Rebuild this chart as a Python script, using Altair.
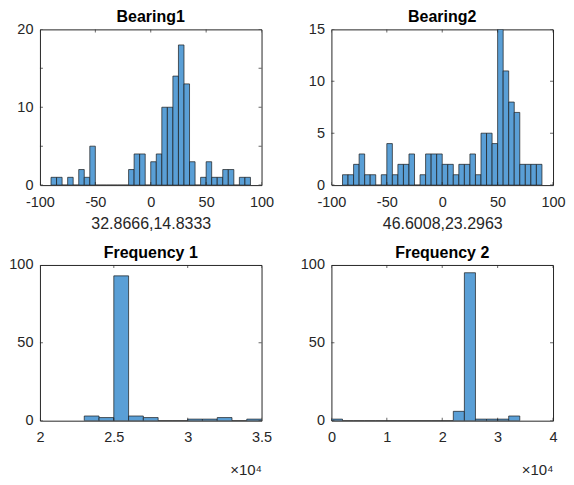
import altair as alt
import pandas as pd

# ---------------- data ----------------
b1_start, b1_width = -90, 5
b1_counts = [1, 1, 0, 1, 0, 2, 1, 5, 0, 0, 0, 0, 0, 0, 2, 4, 4, 0,
             3, 4, 10, 10, 14, 18, 13, 3, 0, 1, 3, 1, 1, 2, 2, 0, 1, 1]
b1_label = "32.8666,14.8333"

b2_start, b2_width = -90, 5
b2_counts = [1, 1, 2, 3, 1, 1, 0, 1, 4, 1, 2, 2, 3, 0, 1, 3, 3, 3,
             2, 2, 1, 2, 2, 3, 1, 5, 5, 4, 15, 11, 8, 7, 2, 2, 2, 2]
b2_label = "46.6008,23.2963"

f1_start, f1_width = 23000, 1000
f1_counts = [3, 2, 93, 3, 2, 0, 0, 1, 1, 2, 0, 1]

f2_start, f2_width = 0, 2000
f2_counts = [1, 0, 0, 0, 0, 0, 0, 0, 0, 0, 0, 6, 95, 1, 1, 1, 3]

b_xticks = [-100, -50, 0, 50, 100]
b1_yticks = [0, 5, 10, 15, 20]
b2_yticks = [0, 5, 10, 15]
f1_xticks = [20000, 25000, 30000, 35000]
f2_xticks = [0, 10000, 20000, 30000, 40000]
f_yticks = [0, 50, 100]

# ---------------- style ----------------
W, H = 222, 156
BAR = "#5A9FD6"
EDGE = "#1a1a1a"
AX = "#262626"
FONT = "Liberation Sans"
TICK = 3


def hist_df(start, width, counts):
    return pd.DataFrame({
        "x0": [start + i * width for i in range(len(counts))],
        "x1": [start + (i + 1) * width for i in range(len(counts))],
        "count": counts,
    })


def panel(df, title, xdom, xticks, ydom, yticks, xtitle, sci):
    xscale = alt.Scale(domain=xdom, nice=False, zero=False)
    yscale = alt.Scale(domain=ydom, nice=False, zero=False)
    label_expr = "datum.value / 10000" if sci else "datum.value"
    xaxis = alt.Axis(values=xticks, ticks=False, domain=False, grid=False,
                     labelExpr=label_expr, labelFontSize=14.5, labelColor=AX,
                     labelFont=FONT, labelPadding=10, labelFlush=False,
                     title=xtitle, titleFont=FONT, titleFontWeight="normal",
                     titleFontSize=16 if not sci else 15, titleColor=AX,
                     titlePadding=7 if not sci else 18,
                     **({"titleAnchor": "end", "titleAlign": "right"} if sci else {}))
    yaxis = alt.Axis(values=yticks, ticks=False, domain=False, grid=False,
                     labelFontSize=14.5, labelColor=AX, labelFont=FONT,
                     labelPadding=7, labelFlush=False, title=None)
    bars = alt.Chart(df).mark_bar(color=BAR, stroke=EDGE, strokeWidth=0.7,
                                  clip=True).encode(
        x=alt.X("x0:Q", scale=xscale, axis=xaxis),
        x2="x1:Q",
        y=alt.Y("count:Q", scale=yscale, axis=yaxis),
        y2=alt.datum(0),
    )
    xt = pd.DataFrame({"x0": xticks})
    yt = pd.DataFrame({"count": yticks})
    top_t = alt.Chart(xt).mark_tick(orient="vertical", size=TICK * 2, thickness=1,
                                    color=AX, clip=True).encode(
        x=alt.X("x0:Q", scale=xscale), y=alt.value(0))
    bot_t = alt.Chart(xt).mark_tick(orient="vertical", size=TICK * 2, thickness=1,
                                    color=AX, clip=True).encode(
        x=alt.X("x0:Q", scale=xscale), y=alt.value(H))
    left_t = alt.Chart(yt).mark_tick(orient="horizontal", size=TICK * 2, thickness=1,
                                     color=AX, clip=True).encode(
        y=alt.Y("count:Q", scale=yscale), x=alt.value(0))
    right_t = alt.Chart(yt).mark_tick(orient="horizontal", size=TICK * 2, thickness=1,
                                      color=AX, clip=True).encode(
        y=alt.Y("count:Q", scale=yscale), x=alt.value(W))
    return alt.layer(bars, top_t, bot_t, left_t, right_t).properties(
        width=W, height=H,
        title=alt.TitleParams(title, font=FONT, fontSize=16, fontWeight="bold",
                              color="#000000", offset=-4, anchor="middle"),
    )


p1 = panel(hist_df(b1_start, b1_width, b1_counts), "Bearing1", [-100, 100],
           b_xticks, [0, 20], b1_yticks, b1_label, False)
p2 = panel(hist_df(b2_start, b2_width, b2_counts), "Bearing2", [-100, 100],
           b_xticks, [0, 15], b2_yticks, b2_label, False)
p3 = panel(hist_df(f1_start, f1_width, f1_counts), "Frequency 1", [20000, 35000],
           f1_xticks, [0, 100], f_yticks, "×10⁴", True)
p4 = panel(hist_df(f2_start, f2_width, f2_counts), "Frequency 2", [0, 40000],
           f2_xticks, [0, 100], f_yticks, "×10⁴", True)

chart = alt.concat(
    p1, p2, p3, p4, columns=2,
    spacing=alt.RowColnumber(row=80, column=70), bounds="flush",
).properties(
    padding={"left": 0, "top": 0, "right": 0, "bottom": 0},
    background="white",
).configure_view(
    stroke=AX, strokeWidth=1,
)

chart.save("out.html", embed_options={"renderer": "svg", "actions": False})
